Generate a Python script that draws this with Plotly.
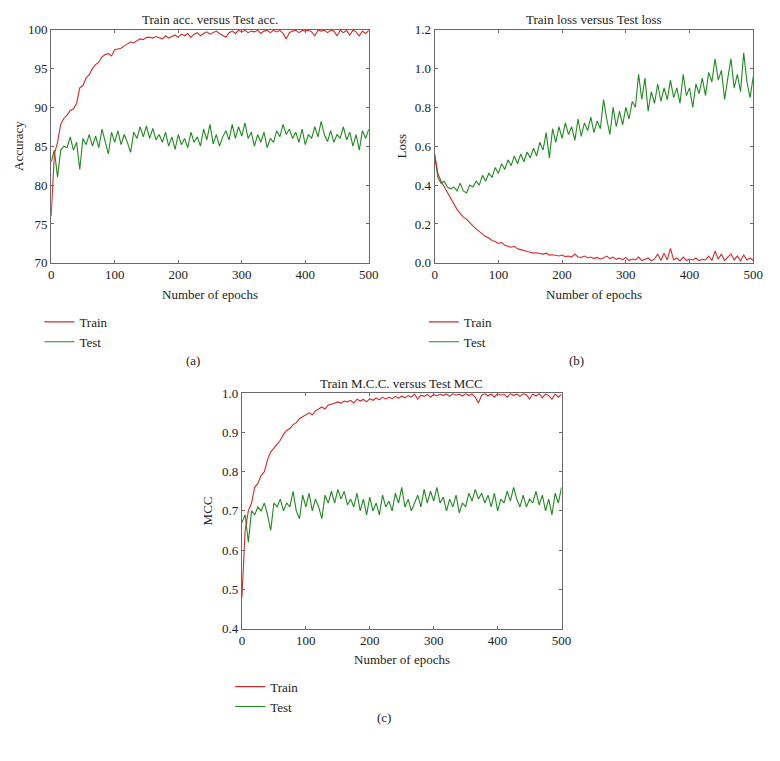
import plotly.graph_objects as go

W, H = 780, 761

# ---------------- data (every 5 epochs) ----------------
EPOCHS = list(range(0, 501, 5))

train_acc = [76.0, 84.0, 85.5, 87.8, 88.6, 89.0, 89.6, 89.8, 90.5, 92.5,
             92.8, 93.8, 94.2, 95.0, 95.5, 95.8, 96.5, 96.8, 96.9, 96.6,
             97.4, 97.5, 97.6, 97.9, 98.2, 98.4, 98.3, 98.6, 98.8, 98.7,
             99.0, 99.0, 98.9, 99.1, 99.0, 98.8, 99.2, 98.9, 99.1, 99.3,
             99.0, 99.4, 99.2, 99.5, 99.0, 99.4, 99.6, 99.2, 99.5, 99.7,
             99.4, 99.6, 99.8, 99.5, 99.3, 99.0, 99.6, 99.8, 99.5, 99.9,
             99.7, 99.9, 99.6, 99.8, 99.7, 99.9, 99.5, 99.8, 99.9, 99.6,
             99.9, 99.7, 99.9, 99.5, 98.8, 99.6, 99.8, 99.9, 99.6, 99.9,
             99.8, 99.9, 99.7, 99.2, 99.9, 99.8, 99.9, 99.6, 99.9, 99.8,
             99.2, 99.9, 99.6, 99.9, 99.3, 99.9, 99.7, 99.2, 99.8, 99.5,
             99.9]
test_acc = [83.0, 84.5, 81.0, 84.5, 85.0, 84.8, 86.2, 84.5, 85.5, 82.0,
            86.0, 85.2, 86.5, 85.0, 86.3, 84.8, 87.2, 85.5, 84.0, 86.8,
            85.5, 87.0, 85.2, 86.5, 85.5, 84.2, 86.8, 86.0, 87.5, 86.2,
            87.6, 86.0, 87.3, 85.8, 86.5, 85.5, 86.8, 85.0, 86.2, 84.6,
            86.5, 85.2, 86.0, 84.8, 86.8, 85.5, 86.2, 85.0, 87.2, 85.8,
            87.8, 85.3, 86.5, 85.0, 86.2, 87.0, 85.8, 87.8, 86.0, 87.5,
            86.3, 88.0, 86.0, 86.8, 85.0, 86.5, 85.5, 86.8, 84.8, 86.0,
            85.5, 87.0, 86.2, 87.8, 86.5, 87.2, 86.0, 86.8, 85.5, 87.2,
            85.2, 86.5, 86.0, 87.5, 86.2, 88.2, 86.5, 85.6, 87.0, 85.5,
            86.5, 86.0, 87.5, 85.8, 86.8, 85.0, 86.5, 84.5, 87.0, 86.0,
            87.2]

train_loss = [0.56, 0.46, 0.42, 0.39, 0.36, 0.33, 0.30, 0.275, 0.255, 0.235,
              0.225, 0.205, 0.19, 0.175, 0.16, 0.15, 0.135, 0.128, 0.115, 0.11,
              0.10, 0.105, 0.09, 0.085, 0.08, 0.085, 0.072, 0.068, 0.062, 0.058,
              0.055, 0.05, 0.052, 0.048, 0.045, 0.05, 0.04, 0.042, 0.038, 0.035,
              0.04, 0.032, 0.035, 0.03, 0.045, 0.03, 0.028, 0.035, 0.025, 0.03,
              0.022, 0.028, 0.02, 0.025, 0.035, 0.022, 0.03, 0.018, 0.025, 0.015,
              0.028, 0.012, 0.02, 0.015, 0.03, 0.012, 0.018, 0.025, 0.01, 0.02,
              0.045, 0.012, 0.05, 0.015, 0.075, 0.015, 0.025, 0.01, 0.03, 0.012,
              0.02, 0.015, 0.025, 0.01, 0.018, 0.015, 0.035, 0.012, 0.06, 0.02,
              0.045, 0.012, 0.03, 0.045, 0.015, 0.035, 0.01, 0.04, 0.015, 0.025,
              0.012]
test_loss = [0.55, 0.44, 0.41, 0.42, 0.39, 0.38, 0.39, 0.37, 0.41, 0.37,
             0.36, 0.40, 0.39, 0.42, 0.40, 0.45, 0.42, 0.46, 0.44, 0.49,
             0.46, 0.51, 0.48, 0.53, 0.50, 0.55, 0.51, 0.56, 0.52, 0.57,
             0.54, 0.59, 0.55, 0.62, 0.58, 0.67, 0.54, 0.69, 0.62, 0.70,
             0.64, 0.72, 0.66, 0.70, 0.63, 0.74, 0.65, 0.72, 0.68, 0.75,
             0.67, 0.73, 0.69, 0.84, 0.74, 0.66, 0.80, 0.70, 0.78, 0.71,
             0.80, 0.74, 0.83, 0.80, 0.97, 0.84, 0.95, 0.78, 0.88, 0.82,
             0.92, 0.83, 0.90, 0.84, 0.94, 0.85, 0.90, 0.82, 0.97, 0.86,
             0.90, 0.80, 0.92, 0.87, 0.95, 0.86, 0.98, 0.93, 1.05, 0.94,
             0.99, 0.84, 0.95, 1.05, 0.90, 0.97, 0.88, 1.08, 0.93, 0.85,
             0.96]

train_mcc = [0.48, 0.65, 0.70, 0.72, 0.76, 0.77, 0.79, 0.80, 0.83, 0.85,
             0.86, 0.87, 0.88, 0.895, 0.905, 0.91, 0.92, 0.925, 0.935, 0.94,
             0.945, 0.95, 0.945, 0.955, 0.96, 0.965, 0.96, 0.97, 0.972, 0.975,
             0.978, 0.975, 0.98, 0.978, 0.982, 0.975, 0.985, 0.98, 0.984, 0.978,
             0.986, 0.982, 0.988, 0.983, 0.99, 0.985, 0.99, 0.986, 0.992, 0.987,
             0.993, 0.988, 0.994, 0.99, 0.998, 0.985, 0.995, 0.992, 0.997, 0.99,
             0.997, 0.993, 0.998, 0.994, 0.998, 0.992, 0.999, 0.995, 0.998, 0.993,
             0.999, 0.994, 0.998, 0.99, 0.975, 0.995, 0.999, 0.993, 0.998, 0.99,
             0.999, 0.995, 0.998, 0.99, 0.999, 0.994, 0.998, 0.992, 0.999, 0.996,
             0.985, 0.998, 0.993, 0.999, 0.988, 0.998, 0.994, 0.985, 0.998, 0.99,
             0.997]
test_mcc = [0.67, 0.69, 0.62, 0.70, 0.69, 0.71, 0.70, 0.72, 0.69, 0.65,
            0.72, 0.71, 0.73, 0.70, 0.72, 0.71, 0.75, 0.70, 0.68, 0.74,
            0.71, 0.745, 0.70, 0.73, 0.71, 0.68, 0.74, 0.72, 0.75, 0.72,
            0.755, 0.73, 0.75, 0.715, 0.73, 0.71, 0.745, 0.70, 0.73, 0.69,
            0.735, 0.70, 0.72, 0.69, 0.74, 0.71, 0.725, 0.70, 0.745, 0.72,
            0.76, 0.71, 0.73, 0.70, 0.72, 0.74, 0.71, 0.755, 0.72, 0.75,
            0.725, 0.76, 0.72, 0.735, 0.70, 0.73, 0.71, 0.74, 0.695, 0.72,
            0.71, 0.745, 0.725, 0.755, 0.73, 0.745, 0.72, 0.74, 0.71, 0.745,
            0.70, 0.73, 0.72, 0.75, 0.725, 0.76, 0.73, 0.71, 0.74, 0.71,
            0.73, 0.72, 0.75, 0.715, 0.74, 0.70, 0.73, 0.69, 0.745, 0.72,
            0.76]

TITLES = ["Train acc. versus Test acc.", "Train loss versus Test loss",
          "Train M.C.C. versus Test MCC"]
YLABELS = ["Accuracy", "Loss", "MCC"]
PANEL_TAGS = ["(a)", "(b)", "(c)"]
SERIES_NAMES = ["Train", "Test"]

RED = "#d42a2a"
GREEN = "#1f8a1f"
FONT = "Liberation Serif"

# ---------------- layout helpers (pixel boxes -> paper fractions) ----------------
def px(x):
    return x / W

def py(y):
    return 1 - y / H

# plot boxes: (left, right, top, bottom) in pixels
BOX = [(49, 372, 23, 261), (439, 763, 23, 261), (243, 568, 394, 634)]

fig = go.Figure()

panels = [
    (train_acc, test_acc, [70, 100], 5, None),
    (train_loss, test_loss, [0, 1.2], 0.2, ".1f"),
    (train_mcc, test_mcc, [0.4, 1.0], 0.1, ".1f"),
]
legend_names = ["legend", "legend2", "legend3"]

for i, (tr, te, yr, dt, fmt) in enumerate(panels):
    xa = "x" if i == 0 else f"x{i+1}"
    ya = "y" if i == 0 else f"y{i+1}"
    fig.add_trace(go.Scatter(x=EPOCHS, y=te, mode="lines", name=SERIES_NAMES[1],
                             line=dict(color=GREEN, width=1.1), xaxis=xa, yaxis=ya,
                             legend=legend_names[i], legendrank=2))
    fig.add_trace(go.Scatter(x=EPOCHS, y=tr, mode="lines", name=SERIES_NAMES[0],
                             line=dict(color=RED, width=1.1), xaxis=xa, yaxis=ya,
                             legend=legend_names[i], legendrank=1))
    l, r, t, b = BOX[i]
    axcommon = dict(showline=True, linecolor="#6a6a6a", linewidth=1, mirror="ticks",
                    ticks="inside", ticklen=3, tickcolor="#6a6a6a", showgrid=False,
                    zeroline=False, tickfont=dict(family=FONT, size=13, color="#222"))
    fig.layout[("xaxis" if i == 0 else f"xaxis{i+1}")] = dict(
        domain=[px(l), px(r)], anchor=ya, range=[0, 500], dtick=100, tick0=0,
        **axcommon)
    ydict = dict(domain=[py(b), py(t)], anchor=xa, range=yr, dtick=dt, tick0=yr[0],
                 **axcommon)
    if fmt:
        ydict["tickformat"] = fmt
    fig.layout[("yaxis" if i == 0 else f"yaxis{i+1}")] = ydict

    cx = (l + r) / 2
    cy = (t + b) / 2
    ann = [
        dict(text=TITLES[i], x=px(cx), y=py(t - 10), size=13),
        dict(text="Number of epochs", x=px(cx), y=py(b + 32), size=13),
    ]
    for a in ann:
        fig.add_annotation(text=a["text"], x=a["x"], y=a["y"], xref="paper", yref="paper",
                           showarrow=False, xanchor="center", yanchor="middle",
                           font=dict(family=FONT, size=a["size"], color="#222"))
    ylab_x = {0: 15, 1: 405, 2: 208}[i]
    fig.add_annotation(text=YLABELS[i], x=px(ylab_x), y=py(cy), xref="paper", yref="paper",
                       showarrow=False, textangle=-90, xanchor="center", yanchor="middle",
                       font=dict(family=FONT, size=13, color="#222"))

# panel tags
for tag, (tx, ty) in zip(PANEL_TAGS, [(193, 361), (583, 361), (387, 725)]):
    fig.add_annotation(text=tag, x=px(tx), y=py(ty), xref="paper", yref="paper",
                       showarrow=False, xanchor="center", yanchor="middle",
                       font=dict(family=FONT, size=13, color="#222"))

leg_common = dict(orientation="v", bgcolor="rgba(0,0,0,0)", borderwidth=0,
                  font=dict(family=FONT, size=13, color="#222"), tracegroupgap=0,
                  itemwidth=30, xanchor="left", yanchor="top", traceorder="normal")
fig.update_layout(
    width=W, height=H, margin=dict(l=0, r=0, t=0, b=0),
    paper_bgcolor="white", plot_bgcolor="white", showlegend=True,
    legend=dict(x=px(37), y=py(306), **leg_common),
    legend2=dict(x=px(428), y=py(306), **leg_common),
    legend3=dict(x=px(231), y=py(678), **leg_common),
)

fig.write_html("out.html", config={"displayModeBar": False},
               post_script="document.body.style.margin='0px';document.body.style.padding='0px';")
